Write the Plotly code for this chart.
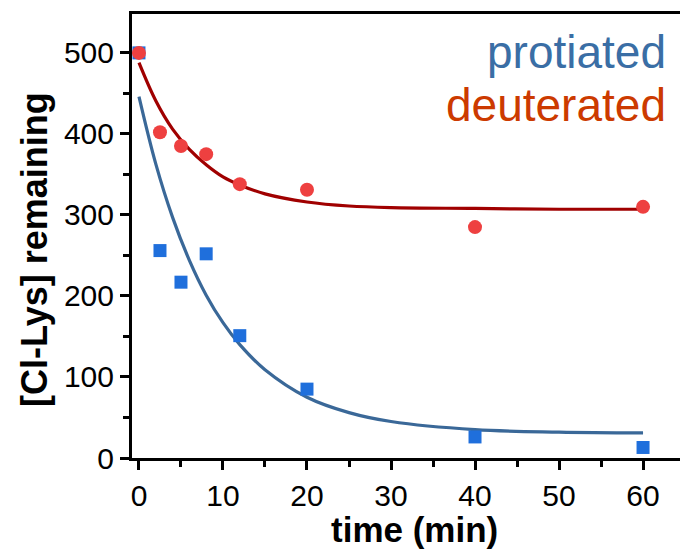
import plotly.graph_objects as go

# measured data points
time_pts = [0, 2.5, 5, 8, 12, 20, 40, 60]
protiated = [500, 256, 217, 252, 151, 85, 26, 13]
deuterated = [500, 402, 385, 375, 338, 331, 285, 310]

# fitted curves
fit_t = [0, 2, 4, 6, 8, 10, 12, 15, 20, 25, 30, 40, 50, 60]
fit_prot = [446, 363, 297, 244, 201, 167, 140, 109, 75, 56, 45, 35, 32, 31]
fit_deut = [488, 441, 406, 381, 362, 347, 337, 326, 316, 311, 309, 308, 307, 307]

x_ticks = [0, 10, 20, 30, 40, 50, 60]
y_ticks = [0, 100, 200, 300, 400, 500]

FONT = "Liberation Sans, Arial, sans-serif"
L, R, T, B = 132, 0, 14, 92
W, H = 680, 550
PW, PH = W - L - R, H - T - B


def px(xp):
    return (xp - L) / PW


def py(yp):
    return (H - B - yp) / PH


fig = go.Figure()
fig.add_trace(go.Scatter(x=fit_t, y=fit_prot, mode="lines", line=dict(color="#3a6898", width=3.2, shape="spline"),
                         showlegend=False, hoverinfo="skip"))
fig.add_trace(go.Scatter(x=fit_t, y=fit_deut, mode="lines", line=dict(color="#a00000", width=3.2, shape="spline"),
                         showlegend=False, hoverinfo="skip"))
fig.add_trace(go.Scatter(x=time_pts, y=protiated, mode="markers",
                         marker=dict(symbol="square", size=13, color="#1f6fdc"), showlegend=False))
fig.add_trace(go.Scatter(x=time_pts, y=deuterated, mode="markers",
                         marker=dict(symbol="circle", size=14, color="#ee4040"), showlegend=False))

fig.update_layout(
    width=W, height=H,
    margin=dict(l=L, r=R, t=T, b=B, pad=0),
    plot_bgcolor="white", paper_bgcolor="white",
    font=dict(family=FONT, color="black"),
    xaxis=dict(range=[-0.83, 64.4], tickvals=x_ticks, ticks="outside", ticklen=9, tickwidth=3,
               tickcolor="black", showline=True, linewidth=3, linecolor="black", mirror=True,
               showgrid=False, zeroline=False, tickfont=dict(size=30, family=FONT),
               minor=dict(tickvals=[5, 15, 25, 35, 45, 55], ticks="outside", ticklen=6, tickwidth=3,
                          tickcolor="black", showgrid=False)),
    yaxis=dict(range=[0, 548], tickvals=y_ticks, ticks="outside", ticklen=9, tickwidth=3,
               tickcolor="black", showline=True, linewidth=3, linecolor="black",
               showgrid=False, zeroline=False, tickfont=dict(size=30, family=FONT),
               minor=dict(tickvals=[50, 150, 250, 350, 450], ticks="outside", ticklen=6, tickwidth=3,
                          tickcolor="black", showgrid=False)),
    annotations=[
        dict(text="<b>time (min)</b>", xref="paper", yref="paper", x=px(414.5), y=py(529),
             xanchor="center", yanchor="middle", showarrow=False, font=dict(size=35, family=FONT)),
        dict(text="<b>[Cl-Lys] remaining</b>", xref="paper", yref="paper", x=px(34), y=py(250),
             xanchor="center", yanchor="middle", textangle=-90, showarrow=False,
             font=dict(size=36, family=FONT)),
        dict(text="protiated", xref="paper", yref="paper", x=px(668), y=py(52),
             xanchor="right", yanchor="middle", showarrow=False,
             font=dict(size=46, family=FONT, color="#3a6ea5")),
        dict(text="deuterated", xref="paper", yref="paper", x=px(668), y=py(105),
             xanchor="right", yanchor="middle", showarrow=False,
             font=dict(size=46, family=FONT, color="#cc3a00")),
    ],
)

fig.write_html("out.html")
